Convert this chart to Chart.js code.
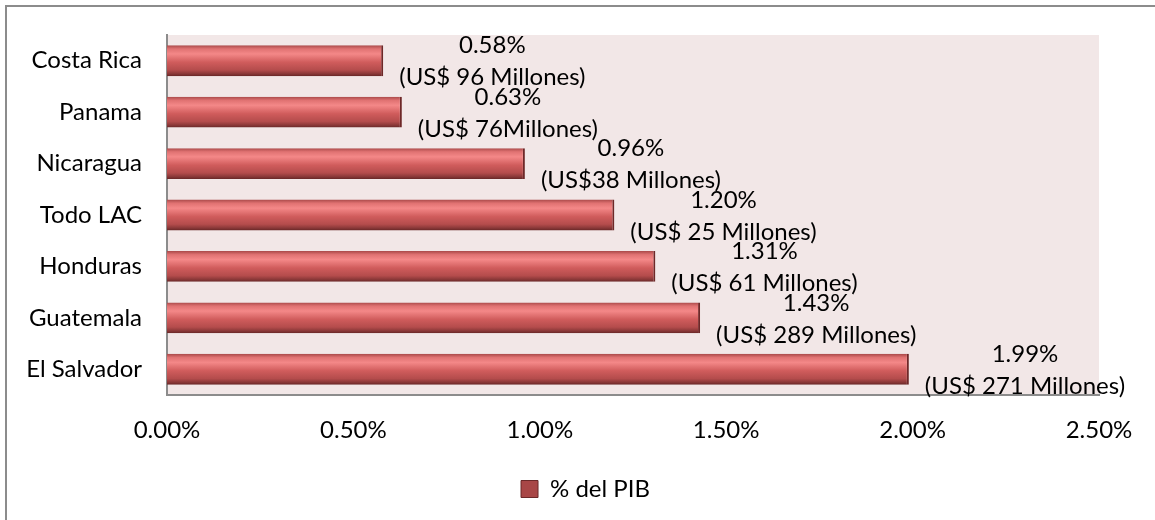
<!DOCTYPE html>
<html>
<head>
<meta charset="utf-8">
<script src="https://cdn.jsdelivr.net/npm/chart.js@4.4.1/dist/chart.umd.min.js"></script>
<style>
	body { margin: 0; background: #fff; }
	#wrap { position: relative; width: 1155px; height: 520px; }
	#frame { position: absolute; left: 5px; top: 5px; right: -10px; bottom: -10px; border: 2px solid #8c8c8c; }
	canvas { position: absolute; left: 0; top: 0; }
</style>
</head>
<body>
<div id="wrap">
	<div id="frame"></div>
	<canvas id="myChart" width="1155" height="520"></canvas>
</div>
<script>
const countries = ['Costa Rica', 'Panama', 'Nicaragua', 'Todo LAC', 'Honduras', 'Guatemala', 'El Salvador'];
const pib = [0.58, 0.63, 0.96, 1.20, 1.31, 1.43, 1.99];
const montos = ['(US$ 96 Millones)', '(US$ 76Millones)', '(US$38 Millones)', '(US$ 25 Millones)', '(US$ 61 Millones)', '(US$ 289 Millones)', '(US$ 271 Millones)'];
const xTicks = [0, 0.5, 1, 1.5, 2, 2.5];

const FONT = 'Lato, "Open Sans", sans-serif';
const FSIZE = 24;

const ready = (callback) =>{
	if (document.readyState != "loading") callback();
	else document.addEventListener("DOMContentLoaded", callback);
}

// bevel-ish vertical gradient for each bar
function barFill(c)
{
	const chart = c.chart;
	const ys = chart.scales && chart.scales.y;
	if (!ys || c.dataIndex === undefined || !chart.chartArea) return '#C0504D';
	const yc = ys.getPixelForValue(c.dataIndex);
	const h = 15.5;
	const g = chart.ctx.createLinearGradient(0, yc - h, 0, yc + h);
	g.addColorStop(0, '#A84848');
	g.addColorStop(0.12, '#E07272');
	g.addColorStop(0.28, '#F48888');
	g.addColorStop(0.55, '#D05C5C');
	g.addColorStop(0.8, '#B44C4C');
	g.addColorStop(0.92, '#8A3838');
	g.addColorStop(1, '#662626');
	return g;
}

const plotBg = {
	id: 'plotBg',
	afterLayout(chart) {
		// legend sits a bit right of centre in the original
		if (chart.legend) {
			chart.legend.left += 36;
			chart.legend.right += 36;
		}
	},
	beforeDraw(chart) {
		const {ctx, chartArea} = chart;
		ctx.save();
		ctx.fillStyle = '#F2E7E7';
		ctx.fillRect(chartArea.left, chartArea.top, chartArea.right - chartArea.left, chartArea.bottom - chartArea.top);
		ctx.restore();
	}
};

const barLabels = {
	id: 'barLabels',
	afterDatasetsDraw(chart) {
		const ctx = chart.ctx;
		const meta = chart.getDatasetMeta(0);
		ctx.save();
		ctx.font = FSIZE + 'px ' + FONT;
		ctx.fillStyle = '#000';
		ctx.textAlign = 'center';
		ctx.textBaseline = 'middle';
		meta.data.forEach((bar, i) => {
			const l1 = pib[i].toFixed(2) + '%';
			const l2 = montos[i];
			const w = Math.max(ctx.measureText(l1).width, ctx.measureText(l2).width);
			const cx = bar.x + 16 + w / 2;
			ctx.fillText(l1, cx, bar.y - 15);
			ctx.fillText(l2, cx, bar.y + 17);
		});
		ctx.restore();
	}
};

ready(() =>{

	const ctx = document.getElementById('myChart').getContext('2d');

	const myChart = new Chart(ctx, {
		type: 'bar',
		data: {
			labels: countries,
			datasets: [{
				label: '% del PIB',
				data: pib,
				backgroundColor: barFill,
				borderColor: '#6E2828',
				borderWidth: {top: 0, bottom: 0, left: 0, right: 2},
				borderSkipped: false,
				categoryPercentage: 0.6,
				barPercentage: 1.0
			}]
		},
		options: {
			indexAxis: 'y',
			responsive: false,
			animation: false,
			layout: { padding: { top: 35, right: 56, left: 0, bottom: 9 } },
			scales: {
				x: {
					min: 0,
					max: 2.5,
					afterBuildTicks: (s) => { s.ticks = xTicks.map(v => ({value: v})); },
					afterFit: (s) => { s.height = 72; },
					grid: { display: false, drawTicks: false },
					border: { display: true, color: '#8c8c8c', width: 2 },
					ticks: {
						padding: 21,
						color: '#000',
						font: { family: FONT, size: FSIZE },
						callback: (v) => Number(v).toFixed(2) + '%'
					}
				},
				y: {
					afterFit: (s) => { s.width = 167; s.paddingTop = 0; s.paddingBottom = 0; },
					grid: { display: false, drawTicks: false },
					border: { display: true, color: '#8c8c8c', width: 2 },
					ticks: {
						padding: 25,
						color: '#000',
						font: { family: FONT, size: FSIZE }
					}
				}
			},
			plugins: {
				tooltip: { enabled: false },
				legend: {
					position: 'bottom',
					labels: {
						color: '#000',
						font: { family: FONT, size: FSIZE },
						boxWidth: 17,
						boxHeight: 17,
						padding: 10,
						generateLabels: (chart) => [{
							text: '% del PIB',
							fillStyle: '#A84646',
							strokeStyle: '#6A2828',
							lineWidth: 1,
							datasetIndex: 0
						}]
					}
				}
			}
		},
		plugins: [plotBg, barLabels]
	});

});
</script>
</body>
</html>
